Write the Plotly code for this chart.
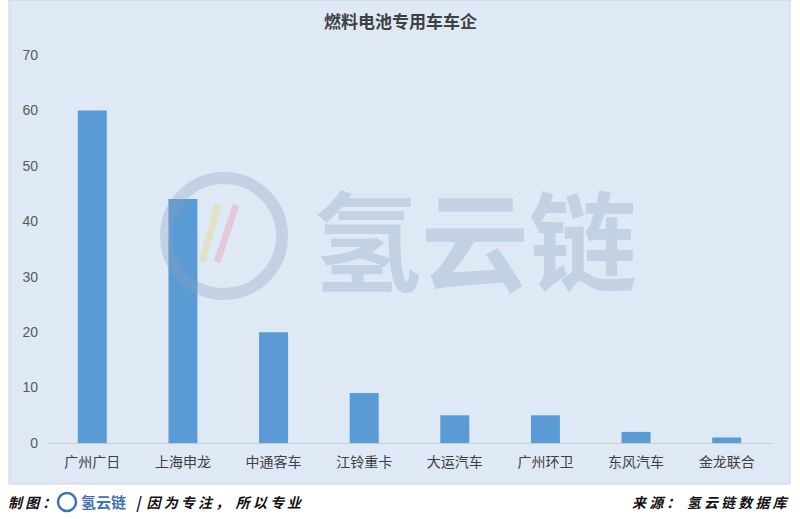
import plotly.graph_objects as go

categories = ["广州广日", "上海申龙", "中通客车", "江铃重卡", "大运汽车", "广州环卫", "东风汽车", "金龙联合"]
values = [60, 44, 20, 9, 5, 5, 2, 1]
y_ticks = [0, 10, 20, 30, 40, 50, 60, 70]

W, H = 800, 519
L, R, T, B = 47, 28, 55, 76  # plot area: x 47..772, y 55..443
pw, ph = W - L - R, H - T - B

def px(x):
    return (x - L) / pw

def py(y):
    return (H - B - y) / ph

fig = go.Figure(go.Bar(
    x=categories, y=values,
    marker=dict(color="#5b9bd5", line=dict(width=0)),
    width=0.32,
))

bg = "#dfe9f6"
wm = "rgba(140,160,195,0.33)"
shapes = [
    dict(type="rect", xref="paper", yref="paper", x0=px(9), x1=px(790), y0=py(0), y1=py(484),
         fillcolor=bg, line=dict(color="#c9d3df", width=1), layer="below"),
    # watermark ring
    dict(type="circle", xref="paper", yref="paper", xsizemode="pixel", ysizemode="pixel",
         xanchor=px(224), yanchor=py(236), x0=-58, x1=58, y0=-58, y1=58,
         line=dict(color="rgba(140,160,190,0.32)", width=12), layer="above"),
    dict(type="line", xref="paper", yref="paper", x0=px(202), y0=py(262), x1=px(218), y1=py(205),
         line=dict(color="rgba(230,215,150,0.5)", width=7), layer="above"),
    dict(type="line", xref="paper", yref="paper", x0=px(217), y0=py(262), x1=px(236), y1=py(205),
         line=dict(color="rgba(230,170,190,0.5)", width=7), layer="above"),
    dict(type="circle", xref="paper", yref="paper", xsizemode="pixel", ysizemode="pixel",
         xanchor=px(67), yanchor=py(502), x0=-9, x1=9, y0=-9, y1=9,
         line=dict(color="#3f6fb5", width=2.5)),
]

annotations = [
    dict(text="<b>燃料电池专用车车企</b>", xref="paper", yref="paper", x=px(400), y=py(20),
         showarrow=False, font=dict(family="Noto Sans CJK SC", size=17, color="#404040"),
         xanchor="center", yanchor="middle"),
    dict(text="<b>氢云链</b>", xref="paper", yref="paper", x=px(475), y=py(236),
         showarrow=False, font=dict(family="Noto Sans CJK SC", size=108, color=wm),
         xanchor="center", yanchor="middle"),
    dict(text="<b><i>制 图 ：</i></b>", xref="paper", yref="paper", x=px(6), y=py(502),
         showarrow=False, font=dict(family="Noto Sans CJK SC", size=14, color="#111111"),
         xanchor="left", yanchor="middle"),
    dict(text="<b>氢云链</b>", xref="paper", yref="paper", x=px(79), y=py(502),
         showarrow=False, font=dict(family="Noto Sans CJK SC", size=15, color="#3f6fb5"),
         xanchor="left", yanchor="middle"),
    dict(text="<b><i>|  因 为 专 注 ，  所 以 专 业</i></b>", xref="paper", yref="paper", x=px(134), y=py(502),
         showarrow=False, font=dict(family="Noto Sans CJK SC", size=14, color="#111111"),
         xanchor="left", yanchor="middle"),
    dict(text="<b><i>来 源 ：  氢 云 链 数 据 库</i></b>", xref="paper", yref="paper", x=px(792), y=py(502),
         showarrow=False, font=dict(family="Noto Sans CJK SC", size=14, color="#111111"),
         xanchor="right", yanchor="middle"),
]

fig.update_layout(
    width=W, height=H,
    margin=dict(l=L, r=R, t=T, b=B),
    paper_bgcolor="white",
    plot_bgcolor="rgba(0,0,0,0)",
    showlegend=False,
    shapes=shapes,
    annotations=annotations,
    bargap=0.68,
    xaxis=dict(
        showline=True, linecolor="#c8cdd4", linewidth=1,
        showgrid=False, ticks="", ticklabelstandoff=6,
        tickfont=dict(family="Noto Sans CJK SC", size=14, color="#404040"),
    ),
    yaxis=dict(
        range=[0, 70], tickvals=y_ticks, showgrid=False, zeroline=False,
        showline=False, ticks="", ticklabelstandoff=8,
        tickfont=dict(family="Liberation Sans", size=14, color="#595959"),
    ),
)

fig.write_html("out.html", config={"displayModeBar": False},
               post_script="document.body.style.margin='0';document.body.style.overflow='hidden';")
